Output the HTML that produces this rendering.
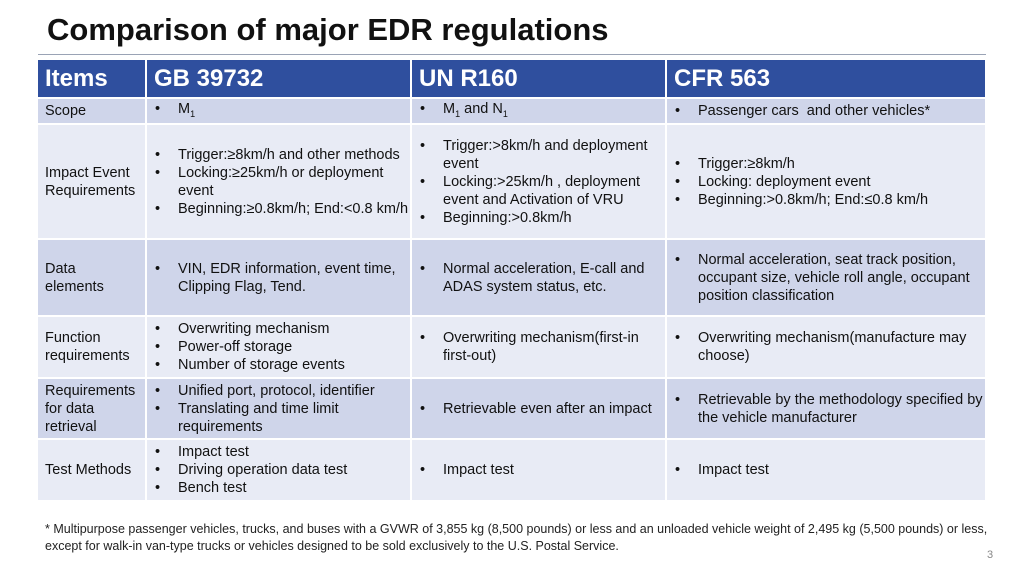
<!DOCTYPE html>
<html><head><meta charset="utf-8"><style>
body{margin:0;width:1024px;height:576px;background:#fff;font-family:"Liberation Sans",sans-serif;position:relative;overflow:hidden}
.title{position:absolute;left:47px;top:12px;font-size:31px;font-weight:bold;color:#111}
.rule{position:absolute;left:38px;top:54px;width:948px;height:1px;background:#9aa3b5}
.c{position:absolute;display:flex;flex-direction:column;justify-content:center;font-size:14.5px;line-height:18px;color:#111;box-sizing:border-box}
.h{background:#2f4f9e;color:#fff;font-size:24px;font-weight:bold;padding-left:7px}
.d{background:#cfd5ea}.l{background:#e8ebf5}
.lab{padding-left:7px}
ul{margin:0;padding:0;list-style:none}
li{position:relative;padding-left:31px}
li:before{content:"•";position:absolute;left:8px}
.note{position:absolute;left:45px;top:521px;font-size:12.5px;line-height:17px;color:#222;width:950px}
.pg{position:absolute;left:987px;top:549px;font-size:11px;color:#888}
</style></head><body>
<div class="title">Comparison of major EDR regulations</div>
<div class="rule"></div>

<div class="c h" style="left:38px;top:60px;width:107px;height:37px">Items</div>
<div class="c h" style="left:147px;top:60px;width:263px;height:37px">GB 39732</div>
<div class="c h" style="left:412px;top:60px;width:253px;height:37px">UN R160</div>
<div class="c h" style="left:667px;top:60px;width:318px;height:37px">CFR 563</div>

<!-- scope -->
<div class="c d lab" style="left:38px;top:99px;width:107px;height:24px">Scope</div>
<div class="c d" style="left:147px;top:99px;width:263px;height:24px"><ul><li>M<sub style="font-size:9px">1</sub></li></ul></div>
<div class="c d" style="left:412px;top:99px;width:253px;height:24px"><ul><li>M<sub style="font-size:9px">1</sub> and N<sub style="font-size:9px">1</sub></li></ul></div>
<div class="c d" style="left:667px;top:99px;width:318px;height:24px"><ul><li>Passenger cars &nbsp;and other vehicles*</li></ul></div>

<!-- impact -->
<div class="c l lab" style="left:38px;top:125px;width:107px;height:113px">Impact Event Requirements</div>
<div class="c l" style="left:147px;top:125px;width:263px;height:113px"><ul><li>Trigger:≥8km/h and other methods</li><li>Locking:≥25km/h or deployment event</li><li>Beginning:≥0.8km/h; End:&lt;0.8 km/h</li></ul></div>
<div class="c l" style="left:412px;top:125px;width:253px;height:113px"><ul><li>Trigger:&gt;8km/h and deployment event</li><li>Locking:&gt;25km/h , deployment event and Activation of VRU</li><li>Beginning:&gt;0.8km/h</li></ul></div>
<div class="c l" style="left:667px;top:125px;width:318px;height:113px"><ul><li>Trigger:≥8km/h</li><li>Locking: deployment event</li><li>Beginning:&gt;0.8km/h; End:≤0.8 km/h</li></ul></div>

<!-- data -->
<div class="c d lab" style="left:38px;top:240px;width:107px;height:75px">Data<br>elements</div>
<div class="c d" style="left:147px;top:240px;width:263px;height:75px"><ul><li>VIN, EDR information, event time, Clipping Flag, Tend.</li></ul></div>
<div class="c d" style="left:412px;top:240px;width:253px;height:75px"><ul><li>Normal acceleration, E-call and ADAS system status, etc.</li></ul></div>
<div class="c d" style="left:667px;top:240px;width:318px;height:75px"><ul><li>Normal acceleration, seat track position, occupant size, vehicle roll angle, occupant position classification</li></ul></div>

<!-- function -->
<div class="c l lab" style="left:38px;top:317px;width:107px;height:60px">Function requirements</div>
<div class="c l" style="left:147px;top:317px;width:263px;height:60px"><ul><li>Overwriting mechanism</li><li>Power-off storage</li><li>Number of storage events</li></ul></div>
<div class="c l" style="left:412px;top:317px;width:253px;height:60px"><ul><li>Overwriting mechanism(first-in first-out)</li></ul></div>
<div class="c l" style="left:667px;top:317px;width:318px;height:60px"><ul><li>Overwriting mechanism(manufacture may choose)</li></ul></div>

<!-- retrieval -->
<div class="c d lab" style="left:38px;top:379px;width:107px;height:59px">Requirements for data retrieval</div>
<div class="c d" style="left:147px;top:379px;width:263px;height:59px"><ul><li>Unified port, protocol, identifier</li><li>Translating and time limit requirements</li></ul></div>
<div class="c d" style="left:412px;top:379px;width:253px;height:59px"><ul><li>Retrievable even after an impact</li></ul></div>
<div class="c d" style="left:667px;top:379px;width:318px;height:59px"><ul><li>Retrievable by the methodology specified by the vehicle manufacturer</li></ul></div>

<!-- test -->
<div class="c l lab" style="left:38px;top:440px;width:107px;height:60px">Test Methods</div>
<div class="c l" style="left:147px;top:440px;width:263px;height:60px"><ul><li>Impact test</li><li>Driving operation data test</li><li>Bench test</li></ul></div>
<div class="c l" style="left:412px;top:440px;width:253px;height:60px"><ul><li>Impact test</li></ul></div>
<div class="c l" style="left:667px;top:440px;width:318px;height:60px"><ul><li>Impact test</li></ul></div>

<div class="note">* Multipurpose passenger vehicles, trucks, and buses with a GVWR of 3,855 kg (8,500 pounds) or less and an unloaded vehicle weight of 2,495 kg (5,500 pounds) or less, except for walk-in van-type trucks or vehicles designed to be sold exclusively to the U.S. Postal Service.</div>
<div class="pg">3</div>
</body></html>
